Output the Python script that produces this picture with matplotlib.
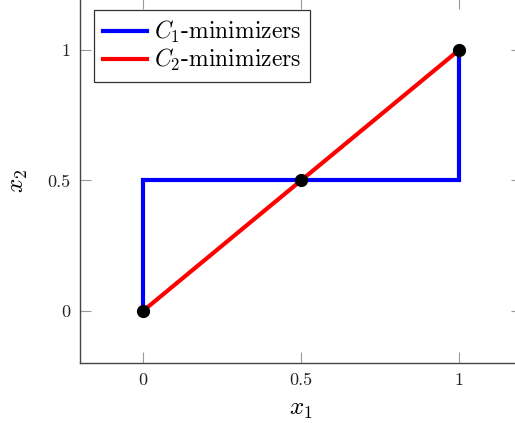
import matplotlib
matplotlib.use('Agg')
import matplotlib.pyplot as plt

# data
c1_x = [0, 0, 1, 1]
c1_y = [0, 0.5, 0.5, 1]
c2_x = [0, 1]
c2_y = [0, 1]
pts_x = [0, 0.5, 1]
pts_y = [0, 0.5, 1]
ticks = [0, 0.5, 1]
tick_labels = ['0', '0.5', '1']


def main():
    plt.rcParams['font.family'] = ['cmr10', 'DejaVu Serif']
    plt.rcParams['mathtext.fontset'] = 'cm'
    plt.rcParams['axes.formatter.use_mathtext'] = True

    W, H = 515, 423
    fig = plt.figure(figsize=(W / 100, H / 100), dpi=100)
    # axes box runs slightly past the right and top edges of the picture
    ax = fig.add_axes([80 / W, (H - 363) / H, 442 / W, 365 / H])

    ax.plot(c1_x, c1_y, color='#0000ff', lw=3.0, label='$C_1$-minimizers',
            solid_joinstyle='miter', zorder=2)
    ax.plot(c2_x, c2_y, color='#ff0000', lw=3.0, label='$C_2$-minimizers',
            zorder=3)
    ax.plot(pts_x, pts_y, 'o', color='black', ms=8.5, zorder=4)

    ax.set_xlim(-0.2, 1.2)
    ax.set_ylim(-0.2, 1.2)
    ax.set_xticks(ticks)
    ax.set_xticklabels(tick_labels)
    ax.set_yticks(ticks)
    ax.set_yticklabels(tick_labels)
    ax.tick_params(direction='in', length=8, width=0.8, color='#999999',
                   top=True, right=True, labelsize=13, pad=7,
                   labelcolor='#222222')
    for s in ax.spines.values():
        s.set_color('#444444')
        s.set_linewidth(1.0)

    ax.set_xlabel('$x_1$', fontsize=18, labelpad=8)
    ax.set_ylabel('$x_2$', fontsize=18, labelpad=12)

    leg = ax.legend(loc='upper left', bbox_to_anchor=(94 / W, 1 - 10 / H),
                    bbox_transform=fig.transFigure, fontsize=17,
                    frameon=True, fancybox=False, framealpha=1,
                    edgecolor='#333333', handlelength=1.85, handletextpad=0.3,
                    borderpad=0.38, labelspacing=0.08, borderaxespad=0)
    leg.get_frame().set_linewidth(0.9)

    fig.savefig('out.png', dpi=100)


if __name__ == '__main__':
    main()
